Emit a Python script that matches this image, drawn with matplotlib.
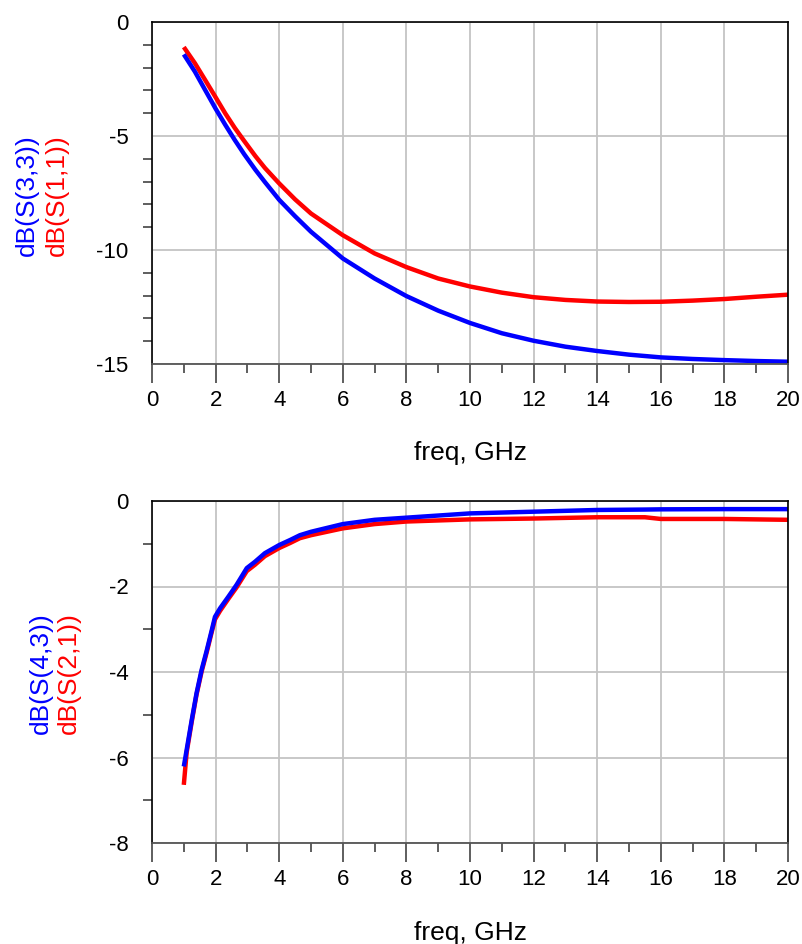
import matplotlib
matplotlib.use("Agg")
import matplotlib.pyplot as plt
from matplotlib.ticker import MultipleLocator

plt.rcParams['font.family'] = ['Liberation Sans', 'DejaVu Sans']
plt.rcParams['axes.unicode_minus'] = False

# ---- data ----
freq_top = [1, 1.35, 1.67, 2, 2.3, 2.6, 2.9, 3.25, 3.55, 4, 4.5, 5, 6, 7, 8, 9,
            10, 11, 12, 13, 14, 15, 16, 17, 18, 19, 20]
s11_db = [-1.1, -1.81, -2.54, -3.3, -4.0, -4.64, -5.22, -5.88, -6.4, -7.08,
          -7.78, -8.4, -9.35, -10.15, -10.75, -11.25, -11.6, -11.87, -12.07,
          -12.19, -12.26, -12.28, -12.27, -12.22, -12.15, -12.05, -11.96]
s33_db = [-1.42, -2.18, -2.98, -3.8, -4.5, -5.17, -5.8, -6.48, -7.02, -7.8,
          -8.52, -9.2, -10.37, -11.25, -12.02, -12.66, -13.2, -13.65, -13.98,
          -14.24, -14.43, -14.59, -14.71, -14.78, -14.83, -14.87, -14.9]

freq_bot = [1, 1.09, 1.25, 1.4, 1.56, 1.72, 1.88, 1.98, 2.14, 2.4, 2.66, 2.98,
            3.24, 3.55, 3.81, 4.0, 4.35, 4.65, 5, 6, 7, 8, 10, 12, 14, 15.5, 16,
            18, 20]
s43_db = [-6.21, -5.82, -5.12, -4.50, -3.95, -3.50, -3.02, -2.71, -2.51, -2.24,
          -1.96, -1.57, -1.42, -1.22, -1.11, -1.03, -0.91, -0.80, -0.72, -0.54,
          -0.44, -0.39, -0.29, -0.25, -0.21, -0.20, -0.195, -0.19, -0.19]
s21_db = [-6.64, -5.88, -5.16, -4.53, -3.99, -3.54, -3.06, -2.77, -2.57, -2.29,
          -2.02, -1.64, -1.49, -1.29, -1.18, -1.10, -0.98, -0.87, -0.80, -0.64,
          -0.54, -0.48, -0.43, -0.41, -0.38, -0.38, -0.42, -0.42, -0.44]

x_ticks = [0, 2, 4, 6, 8, 10, 12, 14, 16, 18, 20]
top_yticks = [0, -5, -10, -15]
bot_yticks = [0, -2, -4, -6, -8]

BLUE = '#0000ff'
RED = '#ff0000'

W, H = 802, 944
fig = plt.figure(figsize=(W / 100, H / 100), dpi=100)

def px_axes(left, top, right, bottom):
    return fig.add_axes([left / W, 1 - bottom / H, (right - left) / W, (bottom - top) / H])

ax1 = px_axes(152, 22, 788, 364)
ax2 = px_axes(152, 501, 788, 843)

def style(ax, ylim, yticks, ymajor):
    ax.set_xlim(0, 20)
    ax.set_ylim(*ylim)
    ax.set_xticks(x_ticks)
    ax.set_yticks(yticks)
    ax.xaxis.set_minor_locator(MultipleLocator(1))
    ax.yaxis.set_minor_locator(MultipleLocator(ymajor))
    ax.grid(True, which='major', color='#c4c4c4', lw=1.3)
    ax.set_axisbelow(True)
    for s in ['top', 'right', 'left']:
        ax.spines[s].set_color('black')
        ax.spines[s].set_linewidth(1.2)
    ax.spines['bottom'].set_color('#555555')
    ax.spines['bottom'].set_linewidth(1.3)
    ax.tick_params(axis='both', which='major', direction='out', length=14,
                   width=1.1, color='#333333', labelsize=16, labelcolor='black')
    ax.tick_params(axis='y', which='major', pad=3)
    ax.tick_params(axis='x', which='major', pad=5)
    ax.tick_params(axis='both', which='minor', direction='out', length=6.5,
                   width=1.1, color='#333333')
    for t in ax.yaxis.get_major_ticks():
        if t.get_loc() == 0:
            t.tick1line.set_visible(False)
    ax.set_xlabel('freq, GHz', fontsize=19, va='baseline')

style(ax1, (-15, 0), top_yticks, 1)
style(ax2, (-8, 0), bot_yticks, 1)

ax1.plot(freq_top, s11_db, color=RED, lw=3.2, solid_capstyle='butt')
ax1.plot(freq_top, s33_db, color=BLUE, lw=3.2, solid_capstyle='butt')
ax2.plot(freq_bot, s21_db, color=RED, lw=3.2, solid_capstyle='butt')
ax2.plot(freq_bot, s43_db, color=BLUE, lw=3.2, solid_capstyle='butt')

ax1.xaxis.set_label_coords(0.5, (364 - 460) / 342)
ax2.xaxis.set_label_coords(0.5, (843 - 940) / 342)

def ylab(xpx, ypx, text, color):
    fig.text(xpx / W, 1 - ypx / H, text, color=color, rotation=90,
             ha='center', va='center', fontsize=19)

ylab(27, 195, 'dB(S(3,3))', BLUE)
ylab(57, 195, 'dB(S(1,1))', RED)
ylab(41, 673, 'dB(S(4,3))', BLUE)
ylab(69, 673, 'dB(S(2,1))', RED)

fig.savefig('out.png', dpi=100)
